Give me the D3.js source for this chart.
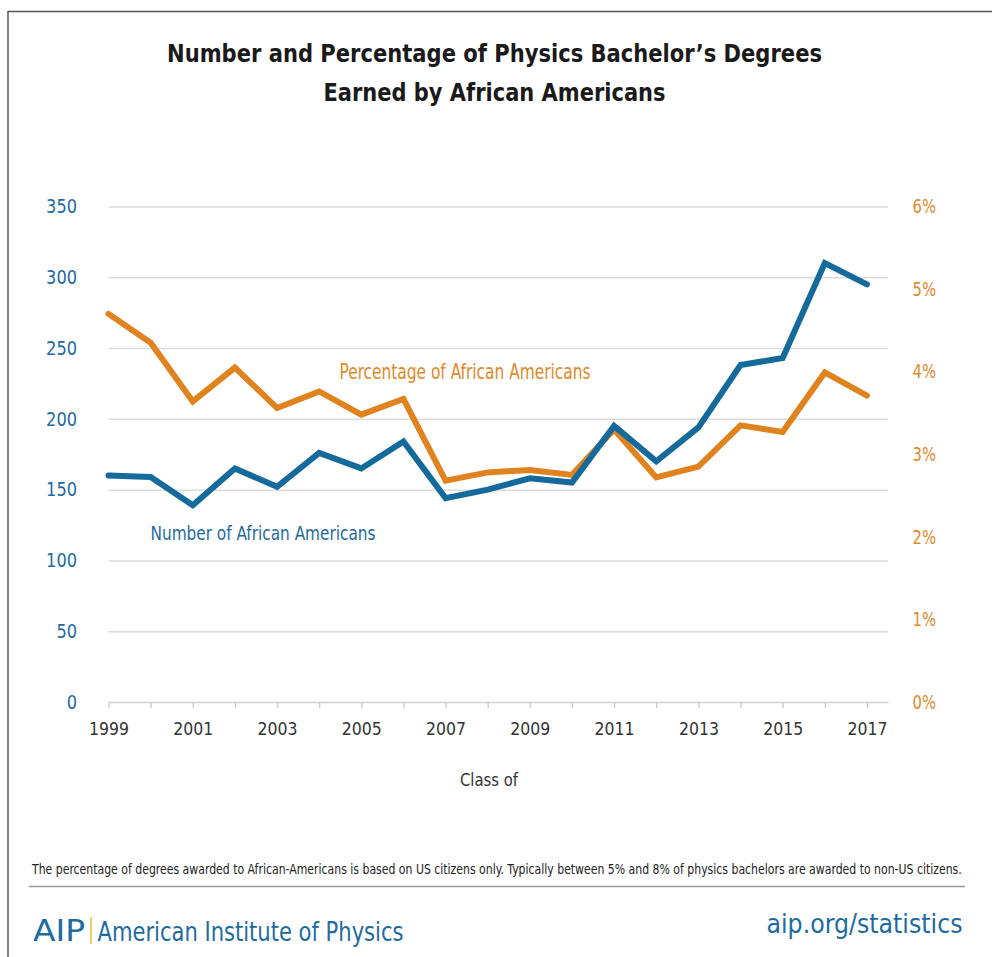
<!DOCTYPE html>
<html>
<head>
<meta charset="utf-8">
<script src="https://cdn.jsdelivr.net/npm/d3@7/dist/d3.min.js"></script>
<style>
  html, body { margin: 0; padding: 0; background: #fff; }
  svg { display: block; }
  text { font-family: "DejaVu Sans Condensed", "DejaVu Sans", sans-serif; }
</style>
</head>
<body>
<svg id="chart" width="992" height="957"></svg>
<script>
// ---- Data ----
const years = [1999, 2000, 2001, 2002, 2003, 2004, 2005, 2006, 2007, 2008, 2009, 2010, 2011, 2012, 2013, 2014, 2015, 2016, 2017];
const numberAA = [160, 159, 139, 165, 152, 176, 165, 184, 144, 150, 158, 155, 195, 170, 194, 238, 243, 310, 295];
const percentAA = [4.70, 4.35, 3.64, 4.05, 3.56, 3.76, 3.48, 3.67, 2.68, 2.78, 2.81, 2.75, 3.30, 2.72, 2.85, 3.35, 3.27, 3.99, 3.71];
const leftTicks = [0, 50, 100, 150, 200, 250, 300, 350];
const rightTicks = [0, 1, 2, 3, 4, 5, 6];
const xTickLabels = [1999, 2001, 2003, 2005, 2007, 2009, 2011, 2013, 2015, 2017];

const titleLines = ["Number and Percentage of Physics Bachelor\u2019s Degrees", "Earned by African Americans"];
const footnote = "The percentage of degrees awarded to African-Americans is based on US citizens only.  Typically between  5% and 8% of physics bachelors are awarded to non-US citizens.";

const BLUE = "#156a9c";
const ORANGE = "#e0831f";
const BLUE_TXT = "#1d6b9f";
const ORANGE_TXT = "#e08a2b";

const svg = d3.select("#chart");

function squeeze(sel, w) {
  sel.attr("textLength", w).attr("lengthAdjust", "spacingAndGlyphs");
  return sel;
}

// frame
svg.append("line").attr("x1", 8).attr("x2", 992).attr("y1", 11.5).attr("y2", 11.5).attr("stroke", "#555").attr("stroke-width", 1.5);
svg.append("line").attr("x1", 8).attr("x2", 8).attr("y1", 11).attr("y2", 957).attr("stroke", "#555").attr("stroke-width", 1.5);

// title
const titleW = [655, 342];
svg.selectAll("text.title").data(titleLines).join("text")
  .attr("class", "title")
  .attr("x", 494.5).attr("y", (d, i) => 62 + i * 39)
  .attr("text-anchor", "middle")
  .attr("font-size", 25).attr("font-weight", "bold").attr("fill", "#1a1a1a")
  .attr("textLength", (d, i) => titleW[i]).attr("lengthAdjust", "spacingAndGlyphs")
  .text(d => d);

// scales
const x = d3.scaleLinear().domain([1999, 2017.5]).range([108.5, 888]);
const yL = d3.scaleLinear().domain([0, 350]).range([702, 206.5]);
const yR = d3.scaleLinear().domain([0, 6]).range([702, 206.5]);

// gridlines
const grid = svg.append("g")
  .attr("transform", "translate(108.5,0)")
  .call(d3.axisLeft(yL).tickValues(leftTicks.filter(d => d > 0)).tickSize(-(888 - 108.5)).tickFormat(""));
grid.select(".domain").remove();
grid.selectAll(".tick line").attr("stroke", "#dcdcdc").attr("stroke-width", 1.5);

// x axis
const xAxis = svg.append("g")
  .attr("transform", "translate(0,702)")
  .call(d3.axisBottom(x).tickValues(years).tickSize(6).tickSizeOuter(0)
    .tickFormat(d => xTickLabels.includes(d) ? String(d) : ""));
xAxis.select(".domain").attr("stroke", "#d0d0d0").attr("stroke-width", 1.5);
xAxis.selectAll(".tick line").attr("stroke", "#d0d0d0").attr("stroke-width", 1.5);
xAxis.selectAll(".tick text").attr("font-size", 18).attr("fill", "#333").attr("dy", null).attr("y", 33)
  .style("font-family", '"DejaVu Sans Condensed", "DejaVu Sans", sans-serif')
  .each(function (d) { if (xTickLabels.includes(d)) squeeze(d3.select(this), 40); });

// left axis labels
const lAxis = svg.append("g").attr("transform", "translate(77,0)")
  .call(d3.axisLeft(yL).tickValues(leftTicks).tickSize(0).tickPadding(0));
lAxis.select(".domain").remove();
lAxis.selectAll(".tick text").attr("font-size", 19.5).attr("fill", BLUE_TXT)
  .style("font-family", '"DejaVu Sans Condensed", "DejaVu Sans", sans-serif')
  .each(function (d) { squeeze(d3.select(this), String(d).length * 10.3); });

// right axis labels
const rAxis = svg.append("g").attr("transform", "translate(912.5,0)")
  .call(d3.axisRight(yR).tickValues(rightTicks).tickSize(0).tickPadding(0).tickFormat(d => d + "%"));
rAxis.select(".domain").remove();
rAxis.selectAll(".tick text").attr("font-size", 19.5).attr("fill", ORANGE_TXT)
  .style("font-family", '"DejaVu Sans Condensed", "DejaVu Sans", sans-serif')
  .each(function () { squeeze(d3.select(this), 23.5); });

// lines
const lineN = d3.line().x((d, i) => x(years[i])).y(d => yL(d));
const lineP = d3.line().x((d, i) => x(years[i])).y(d => yR(d));

svg.append("path").datum(percentAA).attr("d", lineP)
  .attr("fill", "none").attr("stroke", ORANGE).attr("stroke-width", 6)
  .attr("stroke-linejoin", "miter").attr("stroke-linecap", "round");
svg.append("path").datum(numberAA).attr("d", lineN)
  .attr("fill", "none").attr("stroke", BLUE).attr("stroke-width", 6)
  .attr("stroke-linejoin", "miter").attr("stroke-linecap", "round");

// series labels
squeeze(svg.append("text").attr("x", 339.5).attr("y", 378.5).attr("font-size", 20.5).attr("fill", ORANGE_TXT)
  .text("Percentage of African Americans"), 251);
squeeze(svg.append("text").attr("x", 150.5).attr("y", 539.5).attr("font-size", 19.5).attr("fill", BLUE_TXT)
  .text("Number of African Americans"), 225);

// x axis title
squeeze(svg.append("text").attr("x", 460).attr("y", 785.5)
  .attr("font-size", 17.5).attr("fill", "#333").text("Class of"), 58);

// footnote (horizontally condensed via transform so it fits 32..962)
const fn = svg.append("text").attr("x", 0).attr("y", 0).attr("font-size", 13.5).attr("fill", "#222")
  .text(footnote);
const fnW = fn.node().getComputedTextLength();
fn.attr("transform", `translate(32,873.5) scale(${930 / fnW},1)`);
svg.append("line").attr("x1", 29).attr("x2", 965).attr("y1", 886.5).attr("y2", 886.5)
  .attr("stroke", "#999").attr("stroke-width", 1.5);

// AIP branding
squeeze(svg.append("text").attr("x", 33).attr("y", 940.5).attr("font-size", 30).attr("fill", BLUE_TXT)
  .style("font-family", '"DejaVu Sans", sans-serif')
  .text("AIP"), 52);
svg.append("line").attr("x1", 91).attr("x2", 91).attr("y1", 917).attr("y2", 944)
  .attr("stroke", "#f2c230").attr("stroke-width", 1.5);
squeeze(svg.append("text").attr("x", 97.5).attr("y", 940.5).attr("font-size", 27).attr("fill", BLUE_TXT)
  .text("American Institute of Physics"), 306);
squeeze(svg.append("text").attr("x", 766.5).attr("y", 932.5).attr("font-size", 27).attr("fill", BLUE_TXT)
  .text("aip.org/statistics"), 196);
</script>
</body>
</html>
